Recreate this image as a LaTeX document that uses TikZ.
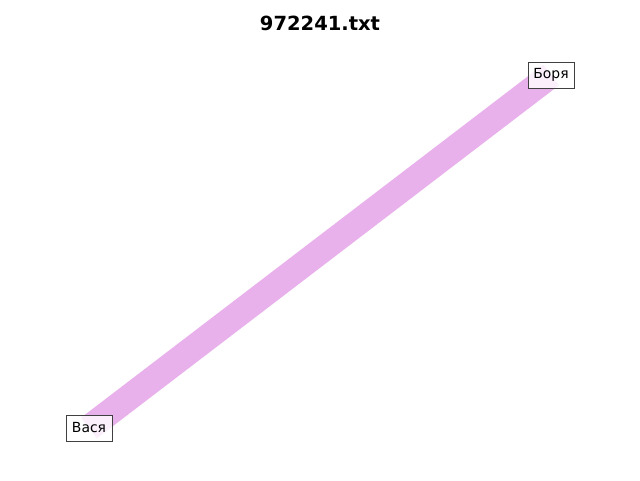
\documentclass[tikz,border=0pt]{standalone}
\usepackage{fontspec}
\setmainfont{DejaVu Sans}
\definecolor{edgepink}{RGB}{233,177,236}
\definecolor{boxgray}{RGB}{64,64,64}
\tikzset{
  lbl/.style={draw=boxgray, fill=white, fill opacity=0.8, text opacity=1, draw opacity=1, line width=1pt,
    minimum width=46pt, minimum height=26pt, inner sep=0pt,
    font=\fontsize{13.9pt}{16pt}\selectfont},
  edgeline/.style={draw=edgepink, line width=26pt, line cap=butt},
}
\begin{document}
\begin{tikzpicture}[x=1pt,y=-1pt]
\useasboundingbox (0,0) rectangle (640,480);
\fill[white] (0,0) rectangle (640,480);
\node[font=\bfseries\fontsize{19.5pt}{22pt}\selectfont] (title) at (320,23) {972241.txt};
\coordinate (pa) at (89,428);
\coordinate (pb) at (551,75);
\draw[edgeline] (pa) -- (pb);
\node[lbl] (vasya) at (pa) {Вася};
\node[lbl] (borya) at (pb) {Боря};
\end{tikzpicture}
\end{document}
